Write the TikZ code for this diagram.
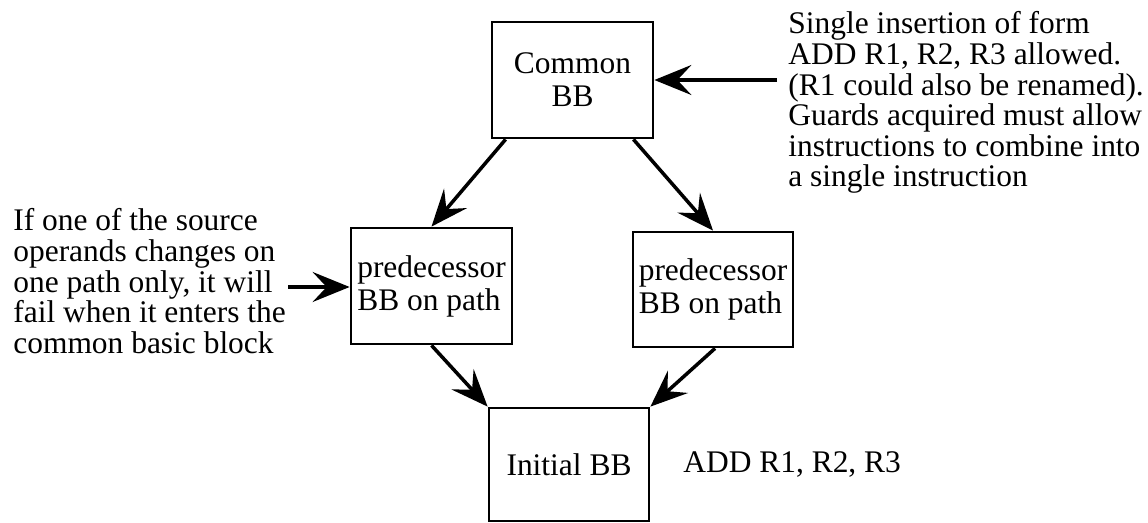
\documentclass[tikz,border=0pt]{standalone}
\usepackage{fontspec}
\setmainfont{Liberation Serif}
\usetikzlibrary{arrows.meta}

\begin{document}
\begin{tikzpicture}[
    x=0.02cm, y=-0.02cm,
    block/.style={rectangle, draw, line width=1.6pt, inner sep=1pt,
        font=\fontsize{17.9}{18.8}\selectfont},
    note/.style={align=left, inner sep=0pt, font=\fontsize{17.9}{17.4}\selectfont},
    flow/.style={-{Stealth[length=0.74cm, width=0.6cm, inset=0.28cm]}, line width=2pt}
]
    \useasboundingbox (0,0) rectangle (1148,523);

    % Blocks
    \node[block, minimum width=3.22cm, minimum height=2.32cm, align=center] (common) at (572.5,80) {Common\\BB};
    \node[block, minimum width=3.22cm, minimum height=2.32cm, align=left] (predl) at (431.5,286) {predecessor\\BB on path};
    \node[block, minimum width=3.2cm, minimum height=2.3cm, align=left] (predr) at (713,289.5) {predecessor\\BB on path};
    \node[block, minimum width=3.2cm, minimum height=2.26cm] (init) at (569,464.5) {Initial BB};

    % Notes
    \node[anchor=base west, inner sep=0pt, font=\fontsize{17.9}{17.4}\selectfont] (addins) at (683,472) {ADD R1, R2, R3};
    \node[note, anchor=north west] (rnote) at (788,11.5) {Single insertion of form\\ADD R1, R2, R3 allowed.\\(R1 could also be renamed).\\Guards acquired must allow\\instructions to combine into\\a single instruction};
    \node[note, anchor=north west] (lnote) at (13,208.5) {If one of the source\\operands changes on\\one path only, it will\\fail when it enters the\\common basic block};

    \coordinate (rtail) at (777,80);
    \coordinate (ltail) at (288,287);

    % Edges
    \draw[flow] (rtail) -- (rtail -| common.east);
    \draw[flow] (ltail) -- (ltail -| predl.west);
    \draw[flow] ([xshift=0.3cm]common.south west) -- (predl.north);
    \draw[flow] ([xshift=-0.42cm]common.south east) -- (predr.north);
    \draw[flow] (predl.south) -- (init.north west);
    \draw[flow] ([xshift=0.04cm]predr.south) -- (init.north east);
\end{tikzpicture}
\end{document}
